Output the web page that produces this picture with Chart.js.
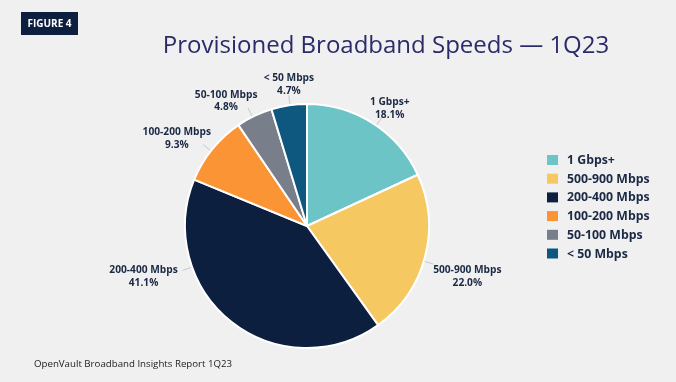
<!DOCTYPE html>
<html>
<head>
<meta charset="utf-8">
<script src="https://cdn.jsdelivr.net/npm/chart.js@4.4.0/dist/chart.umd.min.js"></script>
<style>
  html, body { margin: 0; padding: 0; background: #f0f0f0; }
  #wrap { position: relative; width: 676px; height: 382px; }
</style>
</head>
<body>
<div id="wrap"><canvas id="chart" width="676" height="382"></canvas></div>
<script>
const categories = ['1 Gbps+', '500-900 Mbps', '200-400 Mbps', '100-200 Mbps', '50-100 Mbps', '< 50 Mbps'];
const shares = [18.1, 22.0, 41.1, 9.3, 4.8, 4.7];
const percentLabels = ['18.1%', '22.0%', '41.1%', '9.3%', '4.8%', '4.7%'];
const colors = ['#6cc4c6', '#f5c862', '#0c1f3f', '#fb9434', '#787e8a', '#0e577f'];

// label layout (degrees off slice middle, px beyond the rim)
const leaderShift = [2, 2, 32, -1, -1, 0.5];
const textShift = [2.5, 2.6, 34.6, -5.1, -7.3, 1.2];
const textGap = [22, 46, 49, 35, 27, 21];

const navy = '#1b2944';

const decor = {
  id: 'decor',
  beforeDraw(chart) {
    const ctx = chart.ctx;
    ctx.save();
    ctx.fillStyle = '#f0f0f0';
    ctx.fillRect(0, 0, chart.width, chart.height);
    // figure badge
    ctx.fillStyle = '#0c1f3f';
    ctx.fillRect(21, 12, 57, 23);
    ctx.fillStyle = '#fff';
    ctx.font = 'bold 10px "Open Sans"';
    ctx.textAlign = 'center';
    ctx.textBaseline = 'middle';
    ctx.fillText('FIGURE 4', 49.5, 24);
    // title
    ctx.fillStyle = '#2b2b6b';
    ctx.font = '24px "Open Sans"';
    ctx.textBaseline = 'alphabetic';
    ctx.fillText('Provisioned Broadband Speeds \u2014 1Q23', 386, 53);
    // footer
    ctx.fillStyle = '#222';
    ctx.font = '9.7px "Open Sans"';
    ctx.textAlign = 'left';
    ctx.fillText('OpenVault Broadband Insights Report 1Q23', 34, 367);
    ctx.restore();
  },
  afterDatasetsDraw(chart) {
    const ctx = chart.ctx;
    const meta = chart.getDatasetMeta(0);
    ctx.save();
    meta.data.forEach((arc, i) => {
      const p = arc.getProps(['x', 'y', 'startAngle', 'endAngle', 'outerRadius'], true);
      const mid = (p.startAngle + p.endAngle) / 2;
      const la = mid + leaderShift[i] * Math.PI / 180;
      const r = p.outerRadius;
      ctx.strokeStyle = '#c8c8c8';
      ctx.lineWidth = 1;
      ctx.beginPath();
      ctx.moveTo(p.x + Math.cos(la) * (r + 1), p.y + Math.sin(la) * (r + 1));
      ctx.lineTo(p.x + Math.cos(la) * (r + 10), p.y + Math.sin(la) * (r + 10));
      ctx.stroke();
      const ta = mid + textShift[i] * Math.PI / 180;
      const tx = p.x + Math.cos(ta) * (r + textGap[i]);
      const ty = p.y + Math.sin(ta) * (r + textGap[i]);
      ctx.fillStyle = navy;
      ctx.font = 'bold 10.2px "Open Sans"';
      ctx.textAlign = 'center';
      ctx.textBaseline = 'middle';
      ctx.fillText(categories[i], tx, ty - 6);
      ctx.fillText(percentLabels[i], tx, ty + 6.5);
    });
    // legend
    categories.forEach((c, i) => {
      const y = 160 + i * 18.7;
      ctx.fillStyle = colors[i];
      ctx.fillRect(547, y - 5, 11, 10);
      ctx.fillStyle = navy;
      ctx.font = 'bold 12.3px "Open Sans"';
      ctx.textAlign = 'left';
      ctx.textBaseline = 'middle';
      ctx.fillText(c, 567, y + 0.5);
    });
    ctx.restore();
  }
};

new Chart(document.getElementById('chart'), {
  type: 'pie',
  data: {
    labels: categories,
    datasets: [{
      data: shares,
      backgroundColor: colors,
      borderColor: '#ffffff',
      borderWidth: 2
    }]
  },
  options: {
    responsive: false,
    animation: false,
    layout: { padding: { left: 184, right: 246, top: 103, bottom: 33 } },
    plugins: {
      legend: { display: false },
      tooltip: { enabled: false },
      title: { display: false }
    }
  },
  plugins: [decor]
});
</script>
</body>
</html>
